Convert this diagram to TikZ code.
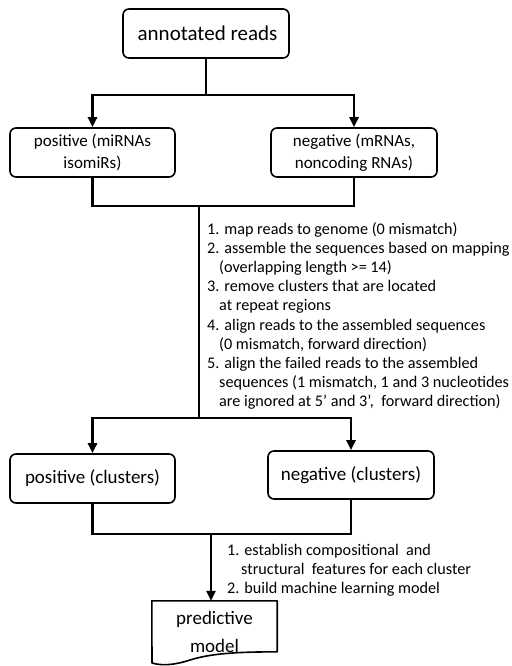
\documentclass[tikz,border=0pt]{standalone}
\usepackage{fontspec}
\setmainfont{Carlito}
\usetikzlibrary{arrows.meta}
\begin{document}
\begin{tikzpicture}[x=1pt,y=-1pt,
  box/.style={draw,line width=1.6pt,rounded corners=6pt,align=center,inner sep=0pt,
    font=\fontsize{19}{21.5}\selectfont},
  link/.style={line width=2.8pt},
  arr/.style={line width=2.8pt,-{Triangle[length=10pt,width=9pt]}},
  steps/.style={anchor=north west,align=left,inner sep=0pt,font=\fontsize{16.2}{19.2}\selectfont}]
\useasboundingbox (0,0) rectangle (511,666);
\node[box,minimum width=166pt,minimum height=49pt,font=\fontsize{21}{24}\selectfont] (top) at (206,33.5) {\hspace*{3pt}annotated reads};
\node[box,minimum width=165pt,minimum height=49pt,font=\fontsize{17}{21.5}\selectfont] (pos1) at (92.5,152.5) {positive (miRNAs\\isomiRs)};
\node[box,minimum width=166pt,minimum height=49pt,font=\fontsize{17}{21.5}\selectfont] (neg1) at (354,152.5) {negative (mRNAs,\\noncoding RNAs)};
\node[box,minimum width=165pt,minimum height=49pt] (pos2) at (92.5,478.5) {positive (clusters)};
\node[box,minimum width=166pt,minimum height=48pt] (neg2) at (351,475) {negative (clusters)};
\node[minimum width=125pt,minimum height=62pt,inner sep=0pt,align=center,
  font=\fontsize{19}{28}\selectfont] (doc) at (214.5,632) {predictive\\model};
\draw[line width=1.6pt,line join=round] (doc.north west) -- (doc.north east) -- ++(0,51)
  .. controls (250,652) and (215,652) .. (190,660)
  .. controls (175,665) and (162,666) .. (152,663) -- cycle;
\coordinate (j1) at (206,95);
\coordinate (m1) at (199,206);
\coordinate (m2) at (199,418);
\coordinate (m3) at (211,534);
\draw[link] (top.south) -- (j1);
\draw[arr] (j1) -| (pos1.north);
\draw[arr] (j1) -| (neg1.north);
\draw[link] (pos1.south) |- (m1) -| (neg1.south);
\draw[link] (m1) -- (m2);
\draw[arr] (m2) -| (pos2.north);
\draw[arr] (m2) -| (neg2.north);
\draw[link] (pos2.south) |- (m3) -| (neg2.south);
\draw[arr] (m3) -- (m3 |- doc.north);
\node[steps] (s1) at (207,222) {1. map reads to genome (0 mismatch)\\
2. assemble the sequences based on mapping\\
\hspace*{12pt}(overlapping length >= 14)\\
3. remove clusters that are located\\
\hspace*{12pt}at repeat regions\\
4. align reads to the assembled sequences\\
\hspace*{12pt}(0 mismatch, forward direction)\\
5. align the failed reads to the assembled\\
\hspace*{12pt}sequences (1 mismatch, 1 and 3 nucleotides\\
\hspace*{12pt}are ignored at 5’ and 3’,\ \ forward direction)};
\node[steps] (s2) at (227,544) {1. establish compositional\ \ and\\
\hspace*{14pt}structural\ \ features for each cluster\\
2. build machine learning model};
\end{tikzpicture}
\end{document}
